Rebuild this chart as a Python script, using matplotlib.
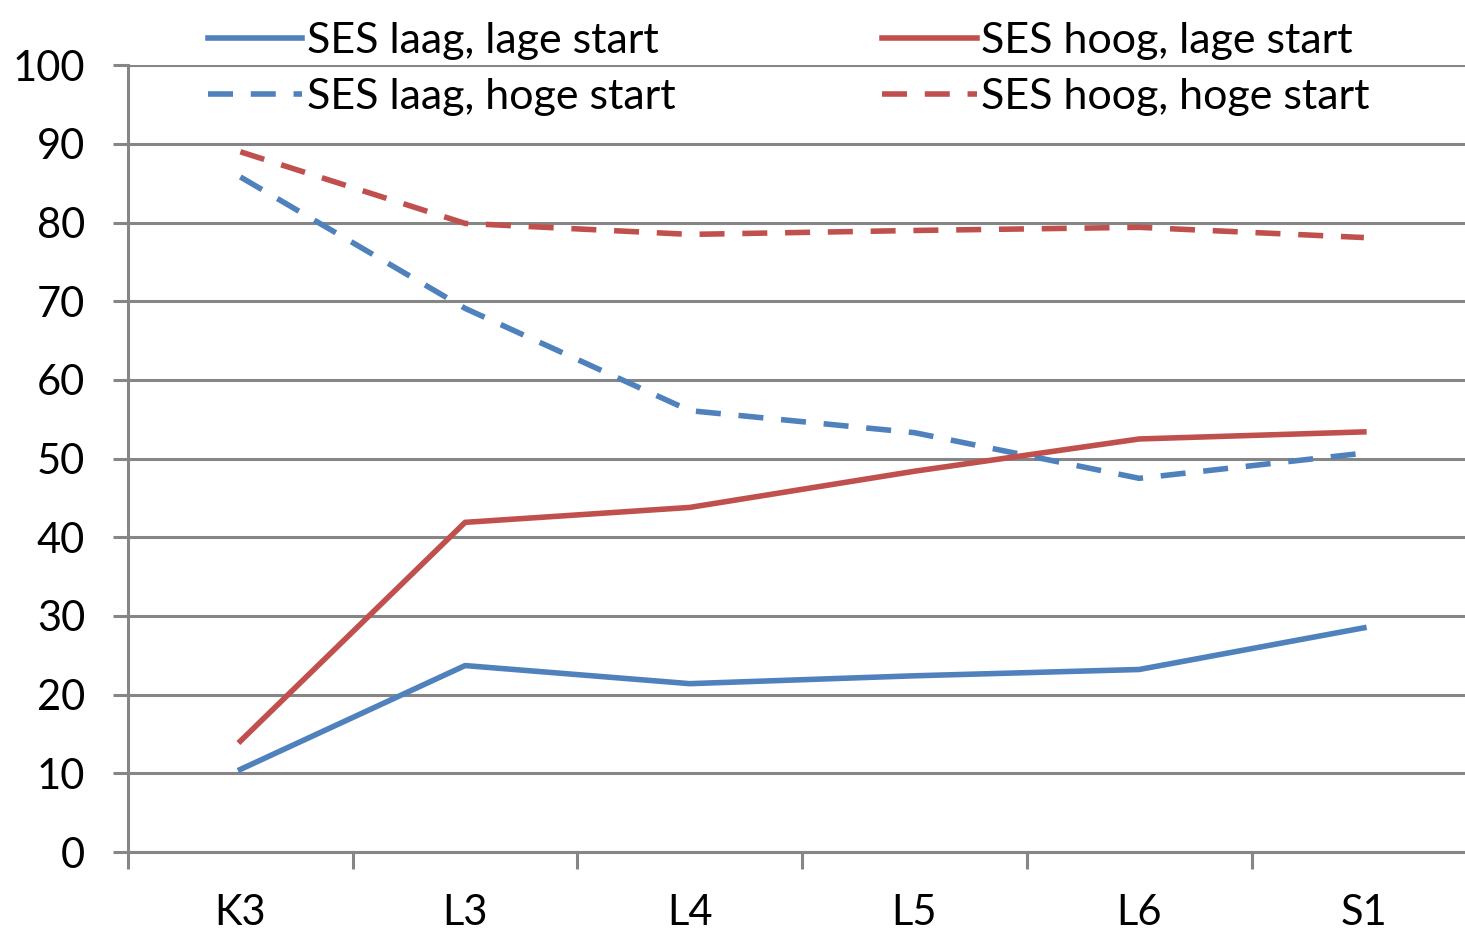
import matplotlib.pyplot as plt
from matplotlib.ticker import FixedLocator

plt.rcParams['font.family'] = ['Lato', 'DejaVu Sans']

categories = ['K3', 'L3', 'L4', 'L5', 'L6', 'S1']
ses_laag_lage = [10.5, 23.7, 21.4, 22.4, 23.2, 28.5]
ses_hoog_lage = [14.1, 41.9, 43.8, 48.4, 52.5, 53.4]
ses_laag_hoge = [85.8, 69.1, 56.1, 53.3, 47.5, 50.7]
ses_hoog_hoge = [89.0, 79.9, 78.5, 79.0, 79.4, 78.1]

blue = '#4F81BD'
red = '#C0504D'
grid_col = '#868686'

fig = plt.figure(figsize=(14.65, 9.32), dpi=100)
ax = fig.add_axes([0.0874, 0.0858, 0.9126, 0.8442])

x = range(len(categories))
lw = 4.0
dash = (4.5, 3.2)
ax.plot(x, ses_laag_lage, color=blue, lw=lw, label='SES laag, lage start')
ax.plot(x, ses_laag_hoge, color=blue, lw=lw, dashes=dash, label='SES laag, hoge start')
ax.plot(x, ses_hoog_lage, color=red, lw=lw, label='SES hoog, lage start')
ax.plot(x, ses_hoog_hoge, color=red, lw=lw, dashes=dash, label='SES hoog, hoge start')

ax.set_xlim(-0.5, 5.45)
ax.set_ylim(0, 100)
ax.set_yticks(range(0, 101, 10))
ax.set_xticks(list(x))
ax.set_xticklabels(categories)
ax.xaxis.set_minor_locator(FixedLocator([i - 0.5 for i in range(7)]))
ax.tick_params(axis='x', which='major', length=0, pad=30, labelsize=30)
ax.tick_params(axis='x', which='minor', length=12, width=2.2, color=grid_col, direction='out')
ax.tick_params(axis='y', length=11, width=2.2, color=grid_col, pad=20, labelsize=30)

ax.grid(axis='y', color=grid_col, lw=2.2)
ax.set_axisbelow(True)
for side in ['top', 'right']:
    ax.spines[side].set_visible(False)
for side in ['left', 'bottom']:
    ax.spines[side].set_color(grid_col)
    ax.spines[side].set_linewidth(2.2)

handles, labels = ax.get_legend_handles_labels()
leg = fig.legend(handles, labels, ncol=2, loc='upper left', bbox_to_anchor=(0.13, 0.995),
                 frameon=False, fontsize=31, handlelength=2.2, handletextpad=0.1,
                 columnspacing=4.8, labelspacing=0.42, borderaxespad=0)

fig.savefig('out.png', dpi=100)
